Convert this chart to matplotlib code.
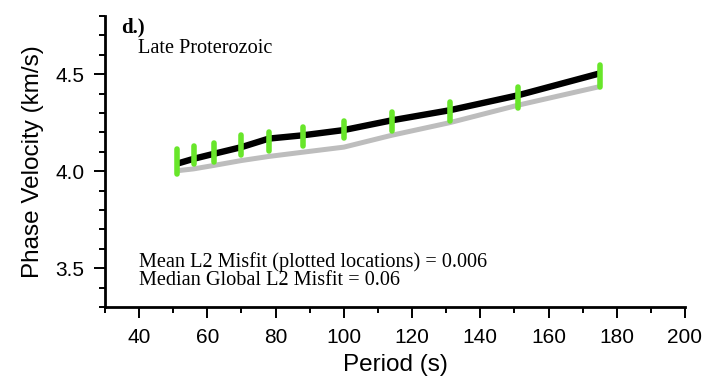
import matplotlib
matplotlib.use('Agg')
import matplotlib.pyplot as plt
import numpy as np

# Dispersion curve data for the Late Proterozoic region
periods = [51, 56, 62, 70, 78, 88, 100, 114, 131, 151, 175]
obs_velocity = [4.050, 4.083, 4.097, 4.133, 4.154, 4.179, 4.216, 4.257, 4.309, 4.380, 4.490]
obs_error = [0.062, 0.045, 0.050, 0.052, 0.050, 0.047, 0.045, 0.050, 0.050, 0.052, 0.058]
model_velocity = [4.038, 4.064, 4.090, 4.124, 4.168, 4.185, 4.212, 4.262, 4.314, 4.391, 4.504]
global_velocity = [4.002, 4.012, 4.030, 4.055, 4.076, 4.098, 4.124, 4.185, 4.250, 4.340, 4.436]

mean_misfit = 0.006
median_misfit = 0.06

serif = ['Liberation Serif', 'DejaVu Serif']
sans = ['Liberation Sans', 'DejaVu Sans']

fig = plt.figure(figsize=(7.08, 3.87), dpi=100)
ax = fig.add_axes([0.1483, 0.2067, 0.8192, 0.752])

# Reference curve (gray), model curve (black), observations with errors (green)
ax.plot(periods, global_velocity, color='#bdbdbd', lw=3.6, solid_capstyle='butt', zorder=2)
ax.plot(periods, model_velocity, color='black', lw=4.6, solid_joinstyle='round',
        solid_capstyle='butt', zorder=3)
lo = np.array(obs_velocity) - np.array(obs_error)
hi = np.array(obs_velocity) + np.array(obs_error)
bars = ax.vlines(periods, lo, hi, colors='#68e62a', lw=4.0, zorder=4)
bars.set_capstyle('round')

ax.set_xlim(30, 200)
ax.set_ylim(3.3, 4.8)
ax.set_xticks(np.arange(40, 201, 20))
ax.set_xticks(np.arange(30, 201, 10), minor=True)
ax.set_yticks([3.5, 4.0, 4.5])
ax.set_yticklabels(['3.5', '4.0', '4.5'])
ax.set_yticks(np.arange(3.3, 4.81, 0.1), minor=True)

for side in ['top', 'right']:
    ax.spines[side].set_visible(False)
for side in ['left', 'bottom']:
    ax.spines[side].set_linewidth(2.0)

ax.tick_params(which='major', direction='out', length=8, width=1.4, pad=7, labelsize=15)
ax.tick_params(which='minor', direction='out', length=4.5, width=1.4)
for lab in ax.get_xticklabels() + ax.get_yticklabels():
    lab.set_family(sans)

ax.set_xlabel('Period (s)', fontsize=17.5, family=sans, labelpad=5)
ax.set_ylabel('Phase Velocity (km/s)', fontsize=17.5, family=sans, labelpad=8)

ax.text(0.028, 0.959, 'd.)', transform=ax.transAxes, fontsize=15, fontweight='bold',
        family=serif, va='center', ha='left')
ax.text(0.057, 0.887, 'Late Proterozoic', transform=ax.transAxes, fontsize=14.6,
        family=serif, va='center', ha='left')
ax.text(0.059, 0.156, 'Mean L2 Misfit (plotted locations) = ' + str(mean_misfit),
        transform=ax.transAxes, fontsize=14.6, family=serif, va='center', ha='left')
ax.text(0.059, 0.090, 'Median Global L2 Misfit = ' + str(median_misfit),
        transform=ax.transAxes, fontsize=14.6, family=serif, va='center', ha='left')

fig.savefig('out.png', dpi=100)
